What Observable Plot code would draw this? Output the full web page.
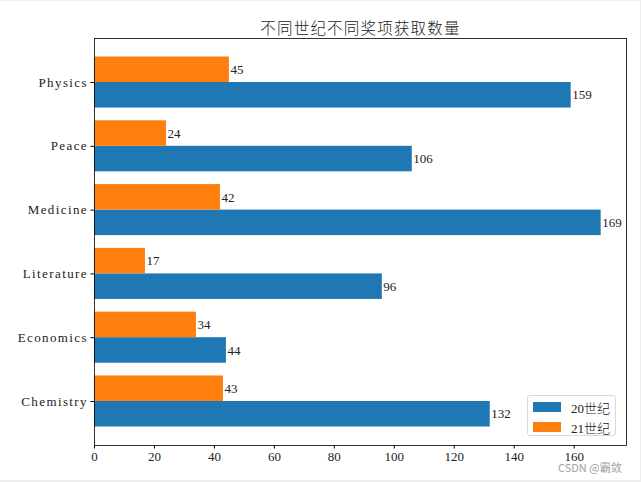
<!DOCTYPE html>
<html><head><meta charset="utf-8">
<script src="https://cdn.jsdelivr.net/npm/d3@7"></script>
<script src="https://cdn.jsdelivr.net/npm/@observablehq/plot@0.6"></script>
<style>
body{margin:0;background:#fff;}
#wrap{position:relative;width:641px;height:482px;font-family:"Liberation Serif","Noto Sans CJK SC",serif;}
#legend{position:absolute;left:527px;top:395px;width:89px;height:41px;border:1px solid #d9d9d9;border-radius:3px;background:rgba(255,255,255,0.85);box-sizing:border-box;font-size:13px;color:#222;}
.row{position:absolute;left:5px;height:12px;display:flex;align-items:center;}
.sw{width:28px;height:10px;margin-right:10px;}
.row span{font-family:"Liberation Serif","Noto Sans CJK SC",serif;font-weight:300;}
#wm{position:absolute;left:558px;top:459px;font-family:"Noto Sans CJK SC",sans-serif;font-size:11px;color:#a0a0a0;}
.edge{position:absolute;background:#efefef;}
</style></head>
<body><div id="wrap"></div>
<script>
const title = "不同世纪不同奖项获取数量";
const categories = ["Chemistry","Economics","Literature","Medicine","Peace","Physics"];
const c20 = [132,44,96,169,106,159];
const c21 = [43,34,17,42,24,45];
const seriesNames = ["20世纪","21世纪"];
const colors = ["#1f77b4","#ff7f0e"];
const xTicks = [0,20,40,60,80,100,120,140,160];

const barH = 0.4;
const rows = [];
categories.forEach((c,i)=>{
  rows.push({cat:c,i,series:seriesNames[0],value:c20[i],y1:i-barH,y2:i,yc:i-barH/2});
  rows.push({cat:c,i,series:seriesNames[1],value:c21[i],y1:i,y2:i+barH,yc:i+barH/2});
});
const xmax = d3.max(rows,d=>d.value)*1.05;
const ylo = -barH, yhi = categories.length-1+barH, ym = (yhi-ylo)*0.05;
const font = '"Liberation Serif","Noto Sans CJK SC",serif';

const chart = Plot.plot({
  width:641,height:482,
  marginLeft:94,marginRight:15,marginTop:38,marginBottom:37,
  style:{fontFamily:font,fontSize:"13px",color:"#222",background:"#fff",overflow:"visible"},
  x:{domain:[0,xmax],label:null},
  y:{domain:[ylo-ym,yhi+ym],label:null},
  color:{domain:seriesNames,range:colors},
  marks:[
    Plot.rectX(rows,{x1:0,x2:"value",y1:"y1",y2:"y2",fill:"series"}),
    Plot.text(rows,{x:"value",y:"yc",text:d=>String(d.value),textAnchor:"start",dx:1,fill:"#222"}),
    Plot.axisX({ticks:xTicks,tickSize:3.5,tickPadding:3,label:null,stroke:"#000"}),
    Plot.axisY({ticks:d3.range(categories.length),tickFormat:i=>categories[i],tickSize:3.5,tickPadding:3,label:null,stroke:"#000"}),
    Plot.frame({stroke:"#000",strokeWidth:0.8}),
    Plot.text([title],{frameAnchor:"top",dy:-16,text:d=>d,fontSize:15.5,fill:"#222",fontFamily:'"Noto Sans CJK SC",sans-serif',fontWeight:300})
  ]
});
const wrap = document.getElementById("wrap");
wrap.appendChild(chart);
d3.select(chart).selectAll('g[aria-label="y-axis tick label"] text').style("letter-spacing","1.4px");
d3.select(chart).selectAll('g[aria-label="text"]').filter((d,i,n)=>d3.select(n[i]).selectAll("text").size()===1).selectAll("text").style("letter-spacing","1.2px");
const lg = document.createElement("div");
lg.id="legend";
seriesNames.forEach((s,k)=>{
  const r=document.createElement("div");r.className="row";r.style.top=(5+k*20)+"px";
  const sw=document.createElement("div");sw.className="sw";sw.style.background=colors[k];
  const t=document.createElement("span");t.textContent=s;
  r.appendChild(sw);r.appendChild(t);lg.appendChild(r);
});
wrap.appendChild(lg);
const wm=document.createElement("div");wm.id="wm";wm.textContent="CSDN @霸敛";wrap.appendChild(wm);
[["0px","0px","641px","1px"],["640px","0px","1px","482px"],["0px","480px","641px","2px"]].forEach(([l,t,w,h])=>{
  const e=document.createElement("div");e.className="edge";
  Object.assign(e.style,{left:l,top:t,width:w,height:h});wrap.appendChild(e);
});
</script></body></html>
